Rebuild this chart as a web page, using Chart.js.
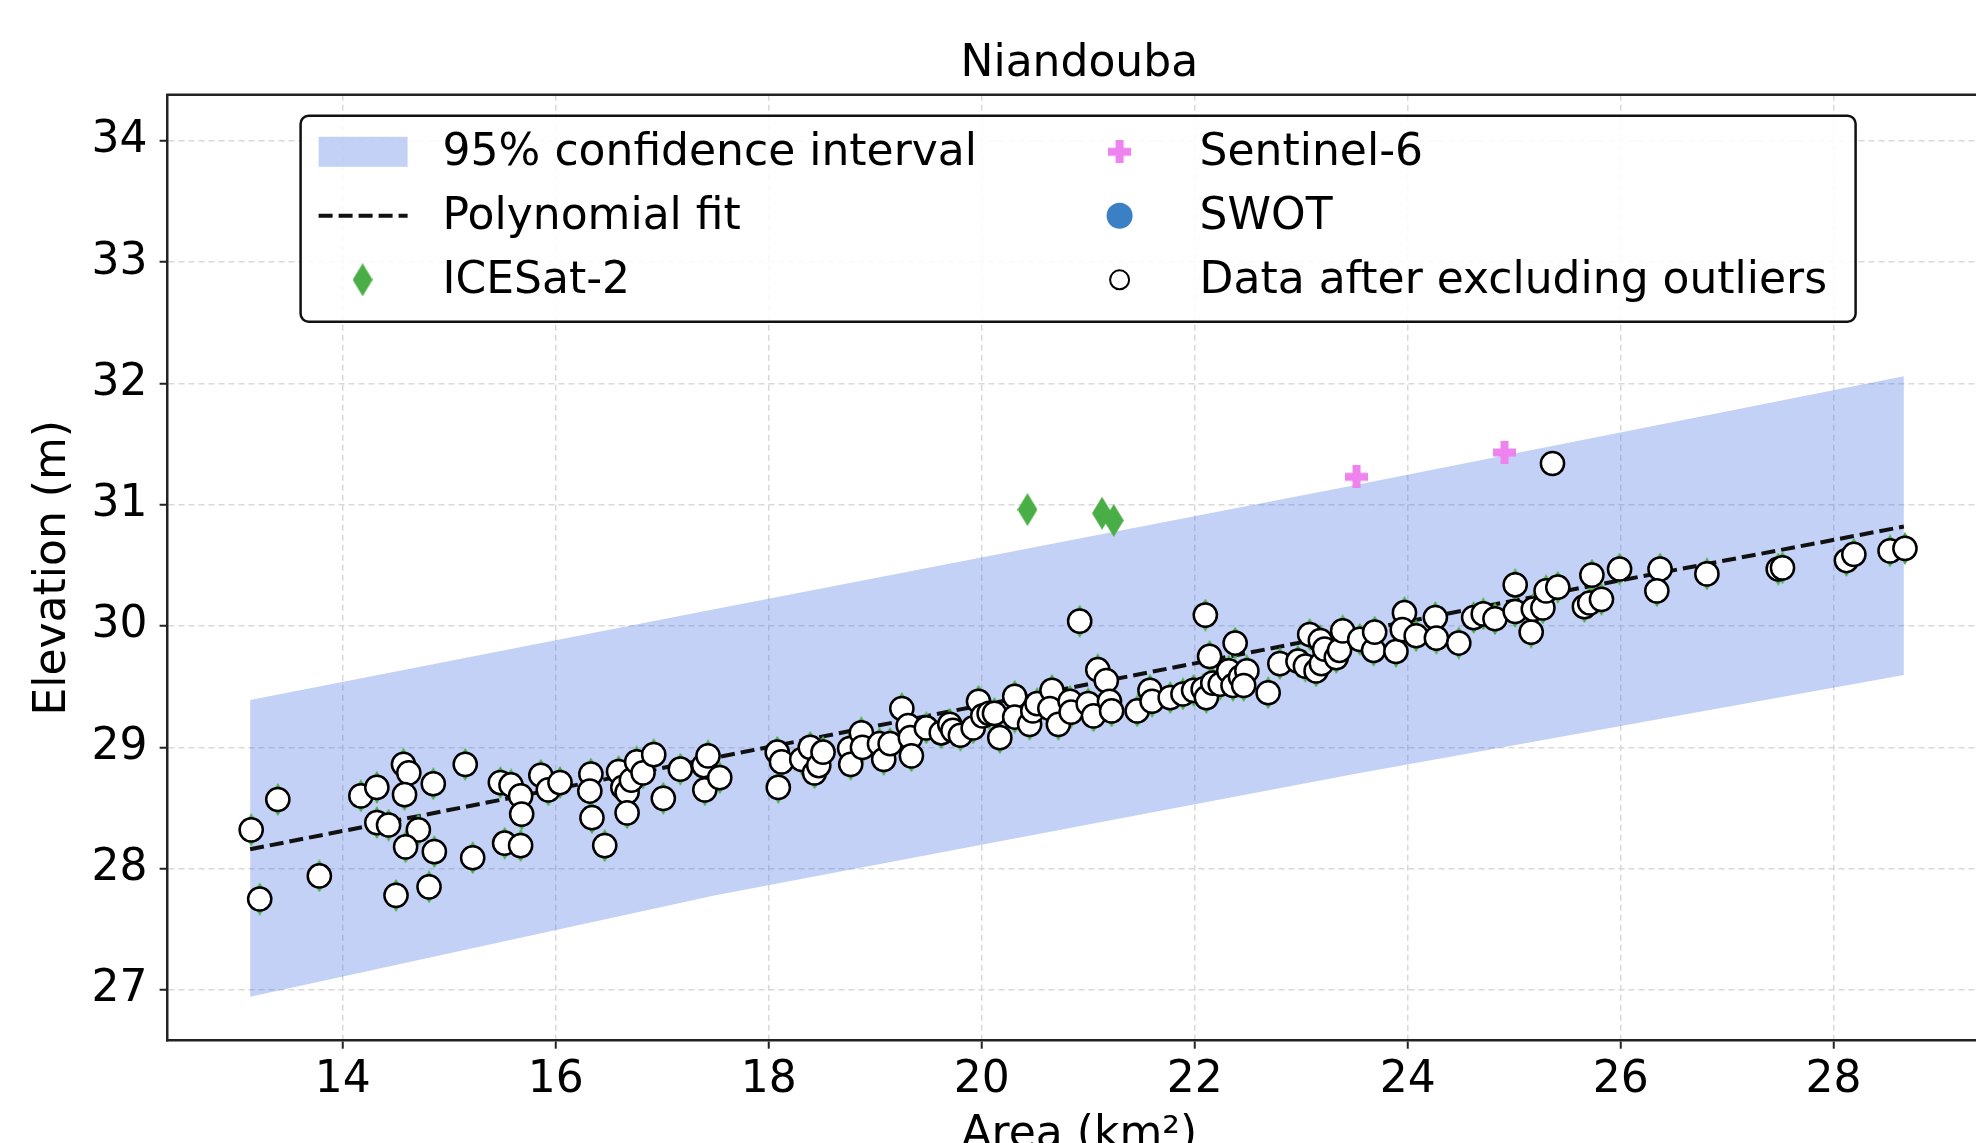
<!DOCTYPE html>
<html>
<head>
<meta charset="utf-8">
<title>Niandouba</title>
<script src="https://cdn.jsdelivr.net/npm/chart.js@4.4.1/dist/chart.umd.min.js"></script>
<style>
  html, body { margin: 0; padding: 0; background: #fff; overflow: hidden; }
  #wrap { width: 2010px; height: 1200px; }
</style>
</head>
<body>
<div id="wrap"><canvas id="chart" width="2010" height="1200"></canvas></div>
<script>
// ── Data ──────────────────────────────────────────────────────────────────
const xTicks = [14, 16, 18, 20, 22, 24, 26, 28];
const yTicks = [27, 28, 29, 30, 31, 32, 33, 34];

// ICESat-2 points kept after outlier removal
const icesatArea = [
  13.14, 13.22, 13.39, 13.78, 14.17, 14.32, 14.32, 14.43, 14.50, 14.57, 14.62, 14.58, 14.71, 14.59, 14.85, 14.86,
  14.81, 15.15, 15.22, 15.48, 15.58, 15.67, 15.68, 15.52, 15.67, 15.86, 15.93, 16.04, 16.33, 16.32, 16.34, 16.46,
  16.59, 16.63, 16.67, 16.67, 16.71, 16.76, 16.82, 16.92, 17.01, 17.17, 17.39, 17.40, 17.43, 17.54,
  18.08, 18.12, 18.09, 18.31, 18.39, 18.43, 18.47, 18.51, 18.76, 18.77, 18.87, 18.88, 19.04, 19.08, 19.14, 19.25,
  19.31, 19.33, 19.34, 19.48, 19.62, 19.70, 19.73, 19.80, 19.92, 19.97, 20.01, 20.07, 20.12, 20.17, 20.31, 20.31,
  20.45, 20.48, 20.52, 20.66, 20.64, 20.72, 20.83, 20.84, 20.92, 21.00, 21.05, 21.09, 21.17, 21.20, 21.22, 21.46,
  21.58, 21.60, 21.77, 21.89, 21.99, 22.10, 22.14, 22.08, 22.11, 22.17, 22.24, 22.32, 22.38, 22.36, 22.43, 22.49, 22.46,
  22.69, 22.80, 22.97, 23.04, 23.08, 23.14, 23.18, 23.19, 23.22, 23.33, 23.36, 23.39, 23.55, 23.68, 23.69, 23.89,
  23.97, 23.95, 24.08, 24.26, 24.27, 24.48, 24.62, 24.71, 24.82, 25.01, 25.01, 25.16, 25.18, 25.27, 25.30, 25.41,
  25.66, 25.71, 25.82, 25.73, 25.99, 26.37, 26.34, 26.81,
  27.48, 27.52, 28.12, 28.19, 28.53, 28.67,
];
const icesatElev = [
  28.32, 27.75, 28.57, 27.94, 28.60, 28.67, 28.38, 28.36, 27.78, 28.86, 28.79, 28.61, 28.32, 28.18, 28.70, 28.14,
  27.85, 28.86, 28.09, 28.71, 28.69, 28.60, 28.45, 28.21, 28.19, 28.77, 28.65, 28.71, 28.78, 28.64, 28.42, 28.19,
  28.80, 28.67, 28.63, 28.46, 28.73, 28.88, 28.79, 28.94, 28.58, 28.82, 28.85, 28.65, 28.93, 28.75,
  28.96, 28.88, 28.67, 28.90, 29.00, 28.79, 28.85, 28.96, 28.99, 28.86, 29.12, 29.00, 29.03, 28.90, 29.03, 29.32,
  29.18, 29.08, 28.93, 29.16, 29.12, 29.19, 29.14, 29.10, 29.16, 29.38, 29.26, 29.28, 29.28, 29.08, 29.42, 29.25,
  29.19, 29.30, 29.36, 29.47, 29.32, 29.19, 29.38, 29.29, 30.04, 29.36, 29.26, 29.64, 29.55, 29.38, 29.30, 29.30,
  29.47, 29.38, 29.41, 29.44, 29.47, 30.09, 29.75, 29.48, 29.41, 29.53, 29.52, 29.63, 29.86, 29.51, 29.58, 29.63, 29.51,
  29.45, 29.69, 29.71, 29.67, 29.93, 29.63, 29.88, 29.69, 29.81, 29.74, 29.80, 29.96, 29.89, 29.80, 29.95, 29.79,
  30.11, 29.97, 29.92, 30.07, 29.90, 29.86, 30.07, 30.10, 30.06, 30.34, 30.12, 29.95, 30.14, 30.15, 30.29, 30.32,
  30.16, 30.19, 30.22, 30.42, 30.47, 30.47, 30.29, 30.43,
  30.47, 30.48, 30.54, 30.59, 30.62, 30.64,
];

// ICESat-2 points dropped as outliers
const icesatOutArea = [20.43, 21.13, 21.24];
const icesatOutElev = [30.96, 30.93, 30.87];

const sentinelArea = [23.52, 24.91];
const sentinelElev = [31.23, 31.43];

const swotArea = [25.36];
const swotElev = [31.34];

// fitted curve and its 95% band
const fitArea = [13.13, 17.0, 21.0, 25.0, 28.66];
const fitElev = [28.16, 28.83, 29.52, 30.21, 30.82];
const bandArea  = [13.13, 17.5, 23.5, 28.66];
const bandUpper = [29.39, 30.14, 31.16, 32.06];
const bandLower = [26.945, 27.78, 28.78, 29.596];

// ── Styling ────────────────────────────────────────────────────────────────
const FONT = '"DejaVu Sans", sans-serif';
const bandColor = 'rgba(65, 105, 225, 0.31)';
const lineColor = '#111';
const fitDash = [14, 6];

const pts = (xs, ys) => xs.map((x, i) => ({ x, y: ys[i] }));

function makeMarker(w, h, draw) {
  const c = document.createElement('canvas');
  c.width = w; c.height = h;
  draw(c.getContext('2d'), w, h);
  return c;
}

// thin diamond like matplotlib 'd'
const diamond = makeMarker(20, 33, (g, w, h) => {
  g.fillStyle = '#4aae47';
  g.beginPath();
  g.moveTo(w / 2, 0); g.lineTo(w, h / 2); g.lineTo(w / 2, h); g.lineTo(0, h / 2);
  g.closePath(); g.fill();
});

// filled plus like matplotlib 'P'
const plusMark = makeMarker(23, 23, (g, w, h) => {
  const t = 8;
  g.fillStyle = '#ee82ee';
  g.fillRect((w - t) / 2, 0, t, h);
  g.fillRect(0, (h - t) / 2, w, t);
});

// ── Plugins ───────────────────────────────────────────────────────────────
// top + right spines (Chart.js only draws left/bottom)
const framePlugin = {
  id: 'frame',
  afterDatasetsDraw(chart) {
    const { ctx, chartArea: a } = chart;
    ctx.save();
    ctx.strokeStyle = '#222';
    ctx.lineWidth = 2.5;
    ctx.beginPath();
    ctx.moveTo(a.left - 1.25, a.top);
    ctx.lineTo(a.right, a.top);
    ctx.lineTo(a.right, a.bottom);
    ctx.stroke();
    ctx.restore();
  },
};

// two-column legend sitting inside the axes
const legendLayout = [
  { ds: 0, col: 0, row: 0 },
  { ds: 2, col: 0, row: 1 },
  { ds: 3, col: 0, row: 2 },
  { ds: 4, col: 1, row: 0 },
  { ds: 5, col: 1, row: 1 },
  { ds: 6, col: 1, row: 2 },
];

const boxLegend = {
  id: 'boxLegend',
  afterDraw(chart) {
    const { ctx, chartArea: a } = chart;
    const ds = chart.data.datasets;
    const x0 = a.left + 133, y0 = a.top + 21, w = 1555, h = 206;
    const rows = [y0 + 36, y0 + 100, y0 + 164];
    const handleX = [x0 + 62, x0 + 819];
    const textX = [x0 + 142, x0 + 899];

    ctx.save();
    ctx.beginPath();
    ctx.roundRect(x0, y0, w, h, 8);
    ctx.fillStyle = 'rgba(255,255,255,0.85)';
    ctx.fill();
    ctx.lineWidth = 2.5;
    ctx.strokeStyle = '#111';
    ctx.stroke();

    legendLayout.forEach(({ ds: i, col, row }) => {
      const d = ds[i];
      const cx = handleX[col], cy = rows[row];
      if (d.fill) {
        ctx.fillStyle = d.backgroundColor;
        ctx.fillRect(cx - 44, cy - 15, 89, 30);
      } else if (d.borderDash) {
        ctx.setLineDash(d.borderDash);
        ctx.lineWidth = d.borderWidth;
        ctx.strokeStyle = d.borderColor;
        ctx.beginPath();
        ctx.moveTo(cx - 44, cy);
        ctx.lineTo(cx + 45, cy);
        ctx.stroke();
        ctx.setLineDash([]);
      } else if (typeof d.pointStyle === 'object') {
        const m = d.pointStyle;
        ctx.drawImage(m, cx - m.width / 2, cy - m.height / 2);
      } else {
        ctx.beginPath();
        const hollow = d.backgroundColor === '#ffffff';
        ctx.arc(cx, cy, hollow ? 9.5 : 13, 0, Math.PI * 2);
        ctx.fillStyle = d.backgroundColor;
        ctx.fill();
        if (hollow) { ctx.lineWidth = 2; ctx.strokeStyle = '#000'; ctx.stroke(); }
      }
      ctx.font = '44px ' + FONT;
      ctx.fillStyle = '#000';
      ctx.textBaseline = 'middle';
      ctx.textAlign = 'left';
      ctx.fillText(d.label, textX[col], cy + 2);
    });
    ctx.restore();
  },
};

// ── Chart ─────────────────────────────────────────────────────────────────
Chart.defaults.font.family = FONT;
Chart.defaults.font.size = 44;
Chart.defaults.color = '#000';

const axisCommon = {
  type: 'linear',
  grid: { color: '#d9d9d9', lineWidth: 1.5, tickColor: '#222', tickWidth: 2, tickLength: 8 },
  border: { display: true, color: '#222', width: 2.5, dash: [6, 4] },
};

new Chart(document.getElementById('chart'), {
  type: 'scatter',
  data: {
    datasets: [
      { type: 'line', label: '95% confidence interval', data: pts(bandArea, bandUpper),
        fill: '+1', backgroundColor: bandColor, borderColor: 'transparent', borderWidth: 0,
        pointRadius: 0, tension: 0, order: 10 },
      { type: 'line', label: 'lower bound', data: pts(bandArea, bandLower),
        fill: false, borderColor: 'transparent', borderWidth: 0, pointRadius: 0, tension: 0, order: 10 },
      { type: 'line', label: 'Polynomial fit', data: pts(fitArea, fitElev),
        fill: false, borderColor: lineColor, borderWidth: 4, borderDash: fitDash,
        pointRadius: 0, tension: 0, order: 9 },
      { label: 'ICESat-2',
        data: pts(icesatArea.concat(icesatOutArea), icesatElev.concat(icesatOutElev)),
        pointStyle: diamond, pointRadius: 10, order: 8 },
      { label: 'Sentinel-6', data: pts(sentinelArea, sentinelElev),
        pointStyle: plusMark, pointRadius: 10, order: 7 },
      { label: 'SWOT', data: pts(swotArea, swotElev),
        pointStyle: 'circle', pointRadius: 12, backgroundColor: '#3b80c4', borderWidth: 0, order: 6 },
      { label: 'Data after excluding outliers',
        data: pts(icesatArea.concat(swotArea), icesatElev.concat(swotElev)),
        pointStyle: 'circle', pointRadius: 11.6, backgroundColor: '#ffffff',
        borderColor: '#000', borderWidth: 2.5, order: 5 },
    ],
  },
  options: {
    responsive: false,
    animation: false,
    devicePixelRatio: 1,
    layout: { padding: { left: 0, right: 19, top: 0, bottom: 0 } },
    plugins: {
      legend: { display: false },
      tooltip: { enabled: false },
      title: {
        display: true, text: 'Niandouba', fullSize: false, color: '#000',
        font: { size: 44, weight: 'normal' }, padding: { top: 38, bottom: 4 },
      },
    },
    scales: {
      x: {
        ...axisCommon,
        position: 'bottom',
        min: 12.355, max: 29.478,
        afterBuildTicks: s => { s.ticks = xTicks.map(v => ({ value: v })); },
        afterFit: s => { s.height = 159.3; },
        ticks: { padding: 5, color: '#000', callback: v => String(v) },
        title: { display: true, text: 'Area (km²)', color: '#000', padding: { top: 0, bottom: 38 } },
      },
      y: {
        ...axisCommon,
        position: 'left',
        min: 26.582, max: 34.379,
        afterBuildTicks: s => { s.ticks = yTicks.map(v => ({ value: v })); },
        afterFit: s => { s.width = 167.6; },
        ticks: { padding: 12, color: '#000', callback: v => String(v) },
        title: { display: true, text: 'Elevation (m)', color: '#000', padding: { top: 27, bottom: 0 } },
      },
    },
  },
  plugins: [framePlugin, boxLegend],
});
</script>
</body>
</html>
